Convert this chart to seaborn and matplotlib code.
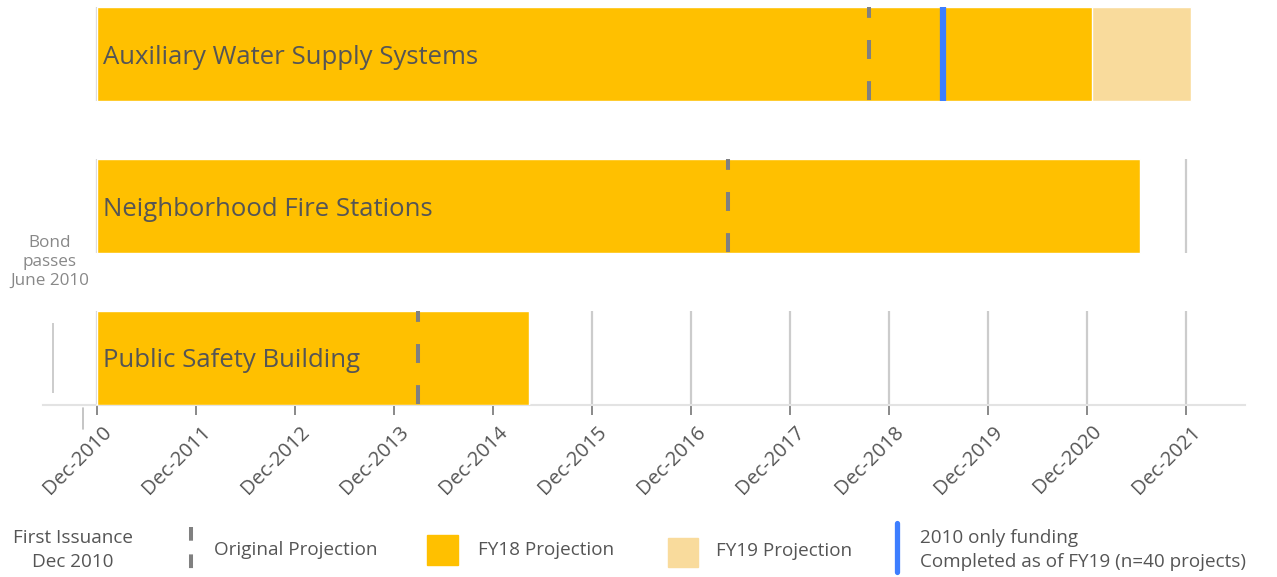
import pandas as pd
import seaborn as sns
import matplotlib.pyplot as plt
import matplotlib.transforms as mtrans
from matplotlib.lines import Line2D
from matplotlib.patches import Rectangle

# years counted from Dec-2010
projects = ['Auxiliary Water Supply Systems', 'Neighborhood Fire Stations', 'Public Safety Building']
fy18_end = [10.05, 10.54, 4.37]
fy19_end = [11.05, 10.54, 4.37]
original_proj = [7.80, 6.38, 3.24]
completed_2010 = [8.55, None, None]
tick_years = list(range(0, 12))
tick_labels = ['Dec-%d' % (2010 + y) for y in tick_years]
bond_pass = -0.44
first_issuance = -0.14

FY18 = '#FFC000'
FY19 = '#F9DB9C'
GREY = '#808080'
BLUE = '#3D7EFF'
TXT = '#555555'

df = pd.DataFrame({'project': projects, 'fy18': fy18_end, 'fy19': fy19_end})

sns.set_theme(style='white')
plt.rcParams['font.family'] = ['Open Sans', 'DejaVu Sans']

W, H = 1277, 577
fig = plt.figure(figsize=(W / 100, H / 100), dpi=100)
ax = fig.add_axes([43 / W, 1 - 405 / H, (1245 - 43) / W, 405 / H])

bw = 0.62
# grid segments inside each row, behind the bars
for i in range(len(projects)):
    ax.vlines(tick_years, i - bw / 2, i + bw / 2, color='#CCCCCC', lw=1.6, zorder=0)

sns.barplot(data=df, y='project', x='fy19', orient='h', color=FY19, width=bw,
            saturation=1, ax=ax, zorder=2)
sns.barplot(data=df, y='project', x='fy18', orient='h', color=FY18, width=bw,
            saturation=1, ax=ax, zorder=3)

for i, x in enumerate(original_proj):
    ax.vlines(x, i - bw / 2, i + bw / 2, color=GREY, lw=2.9,
              linestyles=[(2, (4.7, 5.5))], zorder=4)
for i, x in enumerate(completed_2010):
    if x is not None:
        ax.vlines(x, i - bw / 2, i + bw / 2, color=BLUE, lw=4.5, zorder=5)

for i, name in enumerate(projects):
    ax.text(0.06, i + 0.02, name, va='center', ha='left', fontsize=18.5, color=TXT, zorder=6)

# bond passes marker
ax.vlines(bond_pass, 2 - 0.23, 2 + 0.23, color='#CCCCCC', lw=1.4, zorder=1)
ax.text(bond_pass - 0.04, 1.37, 'Bond\npasses\nJune 2010', ha='center', va='center',
        fontsize=12.3, color='#888888', linespacing=1.25)
ax.plot([first_issuance, first_issuance], [2.33, 2.47], color='#BBBBBB', lw=1.2,
        clip_on=False)

ax.set_xlim(-0.545, 11.6)
ax.set_ylim(2 + bw / 2, -bw / 2 - 7 / 152)
ax.set_ylabel('')
ax.set_xlabel('')
ax.set_yticks([])
ax.set_xticks(tick_years)
ax.set_xticklabels(tick_labels, rotation=45, ha='right', va='top',
                   rotation_mode='anchor', fontsize=14.5, color=TXT)
ax.tick_params(axis='x', bottom=True, length=7, width=1.3, color=GREY, pad=0)
shift = mtrans.ScaledTranslation(5 / 100, -7 / 100, fig.dpi_scale_trans)
for lab in ax.get_xticklabels():
    lab.set_transform(lab.get_transform() + shift)
for s in ['top', 'left', 'right']:
    ax.spines[s].set_visible(False)
ax.spines['bottom'].set_color('#E3E3E3')
ax.spines['bottom'].set_linewidth(1.5)
ax.spines['bottom'].set_zorder(1)

# legend row
lax = fig.add_axes([0, 0, 1, (H - 505) / H])
lax.set_xlim(0, W)
lax.set_ylim(H, 505)
lax.axis('off')
fs = 13.6
lax.text(73, 550, 'First Issuance\nDec 2010', ha='center', va='center', fontsize=fs,
         color=TXT, linespacing=1.45)
lax.add_line(Line2D([191, 191], [527, 569], color=GREY, lw=2.9,
                    linestyle=(0, (3.4, 3.4))))
lax.text(214, 550, 'Original Projection', ha='left', va='center', fontsize=fs, color=TXT)
lax.add_patch(Rectangle((427, 535), 31, 30, color=FY18))
lax.text(478, 550, 'FY18 Projection', ha='left', va='center', fontsize=fs, color=TXT)
lax.add_patch(Rectangle((668, 538), 30, 29, color=FY19))
lax.text(716, 551, 'FY19 Projection', ha='left', va='center', fontsize=fs, color=TXT)
lax.add_line(Line2D([897, 897], [523, 572], color=BLUE, lw=3.8))
lax.text(920, 550, '2010 only funding\nCompleted as of FY19 (n=40 projects)', ha='left',
         va='center', fontsize=fs, color=TXT, linespacing=1.45)

fig.savefig('out.png', dpi=100)
